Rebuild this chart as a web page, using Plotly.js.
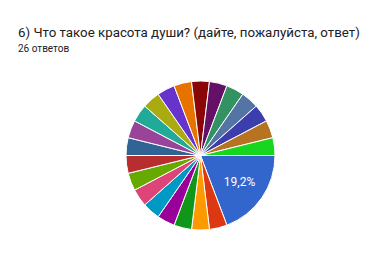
<!DOCTYPE html>
<html>
<head>
<meta charset="utf-8">
<script src="https://cdn.plot.ly/plotly-3.0.1.min.js"></script>
<style>html,body{margin:0;padding:0;background:#fff;}#chart{width:382px;height:260px;}</style>
</head>
<body>
<div id="chart"></div>
<script>
const titleText = "6) Что такое красота души? (дайте, пожалуйста, ответ)";
const subtitleText = "26 ответов";
const labels = ["Ответ 1","Ответ 2","Ответ 3","Ответ 4","Ответ 5","Ответ 6","Ответ 7","Ответ 8","Ответ 9","Ответ 10","Ответ 11","Ответ 12","Ответ 13","Ответ 14","Ответ 15","Ответ 16","Ответ 17","Ответ 18","Ответ 19","Ответ 20","Ответ 21","Ответ 22"];
const values = [5,1,1,1,1,1,1,1,1,1,1,1,1,1,1,1,1,1,1,1,1,1];
const colors = ["#3366cc","#dc3912","#ff9900","#109618","#990099","#0099c6","#dd4477","#66aa00","#b82e2e","#316395","#994499","#22aa99","#aaaa11","#6633cc","#e67300","#8b0707","#651067","#329262","#5574a6","#3b3eac","#b77322","#16d620"];
const templates = values.map(v => v / values.reduce((a,b)=>a+b,0) >= 0.05 ? "%{percent:.1%}" : "");

const W = 382, H = 260;
const cx = 200.5, cy = 155.5, r = 74.5;

Plotly.newPlot("chart", [{
  type: "pie",
  labels: labels,
  values: values,
  sort: false,
  direction: "clockwise",
  rotation: 90,
  marker: {colors: colors, line: {color: "#ffffff", width: 1}},
  texttemplate: templates,
  textposition: "inside",
  insidetextorientation: "horizontal",
  textfont: {family: "Roboto, Arial, sans-serif", size: 12, color: "#ffffff"},
  hoverinfo: "none",
  domain: {x: [(cx - r) / W, (cx + r) / W], y: [(H - cy - r) / H, (H - cy + r) / H]}
}], {
  width: W, height: H,
  margin: {l: 0, r: 0, t: 0, b: 0},
  paper_bgcolor: "#ffffff",
  showlegend: false,
  separators: ", ",
  annotations: [
    {text: titleText, xref: "paper", yref: "paper", x: 16 / W, y: 1 - 32 / H, xanchor: "left", yanchor: "middle", showarrow: false,
     font: {family: "Roboto, Arial, sans-serif", size: 13.3, color: "#202124"}},
    {text: subtitleText, xref: "paper", yref: "paper", x: 16 / W, y: 1 - 48 / H, xanchor: "left", yanchor: "middle", showarrow: false,
     font: {family: "Roboto, Arial, sans-serif", size: 10, color: "#202124"}}
  ]
}, {displayModeBar: false, staticPlot: true});
</script>
</body>
</html>
